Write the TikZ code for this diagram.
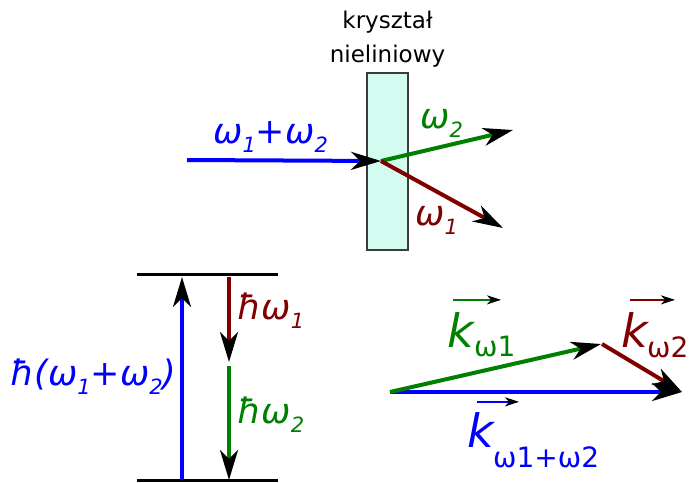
\documentclass[tikz,border=0pt]{standalone}
\usepackage{graphicx}
\usepackage{fontspec}
\setmainfont{DejaVu Sans}
\usepackage{tikz}
\usetikzlibrary{arrows.meta,positioning}

\definecolor{pumpblue}{RGB}{0,0,255}
\definecolor{idlergreen}{RGB}{0,128,0}
\definecolor{signalred}{RGB}{128,0,0}
\definecolor{xtalfill}{RGB}{212,251,240}
\definecolor{xtaledge}{RGB}{60,60,60}

\newcommand{\lowsub}[1]{\raisebox{-0.26em}{\scalebox{0.6}{#1}}}

\begin{document}
\begin{tikzpicture}[
  x=1pt, y=-1pt,
  ray/.style={line width=4pt, -{Stealth[black, length=30pt, width=18pt, inset=9pt]}},
  level/.style={line width=3pt, black},
  vecbar/.style={line width=2pt, -{Stealth[black, length=14pt, width=9pt, inset=4pt]}},
  crystal/.style={rectangle, draw=xtaledge, fill=xtalfill, line width=1.2pt,
                  minimum width=41pt, minimum height=177pt},
  caption/.style={align=center, inner sep=0pt, font=\fontsize{23}{34}\selectfont},
  omlab/.style={inner sep=0pt, anchor=base west, font=\fontsize{35}{40}\selectfont\itshape},
  klab/.style={inner sep=0pt, anchor=base west, font=\fontsize{46}{52}\selectfont\itshape},
  ksub/.style={inner sep=0pt, anchor=base west, font=\fontsize{28}{32}\selectfont},
]
\useasboundingbox (0,0) rectangle (690,482);

% Crystal and beams
\node[crystal] (xtal) at (387.5,161.5) {};
\node[caption, above=5pt of xtal] (xtalname) {kryształ\\nieliniowy};

\coordinate (src) at (187,160);
\coordinate (hit) at (381,161);
\coordinate (outB) at (513,130);
\coordinate (outA) at (503,228);

\draw[ray, pumpblue] (src) -- (hit);
\draw[ray, idlergreen] (hit) -- (outB);
\draw[ray, signalred] (hit) -- (outA);

\node[omlab, pumpblue] (pumplab) at (213,143) {ω\lowsub{1}+ω\lowsub{2}};
\node[omlab, idlergreen] (outBlab) at (420,128) {ω\lowsub{2}};
\node[omlab, signalred] (outAlab) at (415,225) {ω\lowsub{1}};

% Energy levels
\coordinate (upL) at (137,274);
\coordinate (upR) at (278,274);
\coordinate (loL) at (137,480);
\coordinate (loR) at (278,480);
\draw[level] (upL) -- (upR);
\draw[level] (loL) -- (loR);

\coordinate (pumpB) at (182,480);
\coordinate (pumpT) at (182,277);
\coordinate (sigT) at (229,277);
\coordinate (sigB) at (229,362);
\coordinate (idlT) at (229,366);
\coordinate (idlB) at (229,480);

\draw[ray, pumpblue] (pumpB) -- (pumpT);
\draw[ray, signalred] (sigT) -- (sigB);
\draw[ray, idlergreen] (idlT) -- (idlB);

\node[omlab, signalred] (hw1) at (237,319) {ħω\lowsub{1}};
\node[omlab, idlergreen] (hw2) at (237,423) {ħω\lowsub{2}};
\node[omlab, pumpblue] (hsum) at (10,385) {ħ(ω\lowsub{1}+ω\lowsub{2})};

% Wave vectors
\coordinate (kO) at (390,392);
\coordinate (kA) at (601,344);
\coordinate (kB) at (682,392);

\draw[ray, pumpblue] (kO) -- (kB);
\draw[ray, idlergreen] (kO) -- (kA);
\draw[ray, signalred] ([xshift=1pt]kA) -- (kB);

\node[klab, idlergreen] (kw1) at (447,347) {k};
\node[ksub, idlergreen] (kw1s) at ([yshift=-9pt]kw1.base east) {ω1};
\draw[vecbar, idlergreen] ([xshift=6pt, yshift=12pt]kw1.north west) -- ([xshift=27pt, yshift=12pt]kw1.north east);

\node[klab, signalred] (kw2) at (621,347) {k};
\node[ksub, signalred] (kw2s) at ([xshift=-1pt, yshift=-10pt]kw2.base east) {ω2};
\draw[vecbar, signalred] ([xshift=9pt, yshift=12pt]kw2.north west) -- ([xshift=27pt, yshift=12pt]kw2.north east);

\node[klab, pumpblue] (kws) at (467,447) {k};
\node[ksub, pumpblue] (kwss) at ([xshift=-1pt, yshift=-20pt]kws.base east) {ω1+ω2};
\draw[vecbar, pumpblue] ([xshift=10pt, yshift=10pt]kws.north west) -- ([xshift=25pt, yshift=10pt]kws.north east);

\end{tikzpicture}
\end{document}
